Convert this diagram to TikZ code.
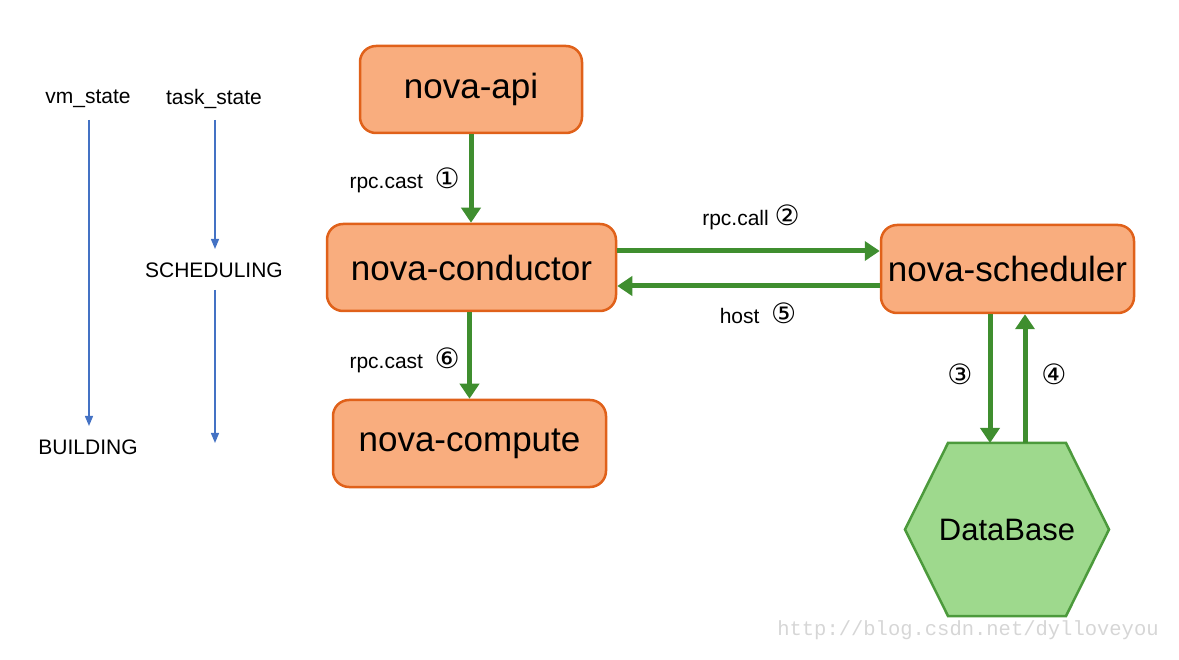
\documentclass[tikz,border=0pt]{standalone}
\usepackage{fontspec}
\setmainfont{Liberation Sans}
\newfontfamily\circfont{DejaVu Sans}
\newfontfamily\wmfont{Liberation Mono}
\usetikzlibrary{arrows.meta}
\definecolor{boxfill}{HTML}{F9AD7E}
\definecolor{boxline}{HTML}{E0611A}
\definecolor{dbfill}{HTML}{9ED98D}
\definecolor{dbline}{HTML}{4C9A3C}
\definecolor{flowgreen}{HTML}{3F8E2F}
\definecolor{stateblue}{HTML}{4472C4}
\definecolor{wmgray}{HTML}{D6D6D6}
\newcommand{\circd}[1]{{\circfont\fontsize{28}{28}\selectfont #1}}
\begin{document}
\begin{tikzpicture}[x=1pt,y=-1pt,
  svc/.style={draw=boxline, fill=boxfill, line width=2.5pt, rounded corners=16pt,
    minimum height=87pt, inner sep=0pt, font=\fontsize{35}{40}\selectfont},
  hexshape/.style={draw=dbline, fill=dbfill, line width=2.5pt, line join=miter},
  lbl/.style={font=\fontsize{21}{24}\selectfont, inner sep=0pt},
  flowarrow/.style={draw=flowgreen, line width=5pt, -{Triangle[width=19pt,length=15pt]}},
  statearrow/.style={draw=stateblue, line width=1.3pt, -{Triangle[width=8pt,length=10pt]}}
]
\useasboundingbox (0,0) rectangle (1179,660);

% services
\node[svc, minimum width=222pt] (api) at (471,89.5) {nova-api};
\node[svc, minimum width=289pt] (cond) at (471.5,267.5) {nova-conductor};
\node[svc, minimum width=273pt] (comp) at (469.5,443.5) {nova-compute};
\node[svc, minimum width=253pt, minimum height=88pt] (sched) at (1007.5,269) {nova-scheduler};

% database hexagon
\coordinate (dbc) at (1007,529.5);
\draw[hexshape] ([shift={(-59,-86.5)}]dbc) -- ([shift={(59,-86.5)}]dbc) -- ([shift={(102,0)}]dbc)
  -- ([shift={(59,86.5)}]dbc) -- ([shift={(-59,86.5)}]dbc) -- ([shift={(-102,0)}]dbc) -- cycle;
\node[minimum width=204pt, minimum height=173pt, inner sep=0pt, outer sep=0pt,
  font=\fontsize{31}{36}\selectfont] (db) at (dbc) {DataBase};

% helper coordinates
\coordinate (ycall) at (0,251);
\coordinate (yhost) at (0,286);
\coordinate (xdown) at (990,0);
\coordinate (xup) at (1025,0);

% green connectors
\draw[flowarrow] (api.south) -- (api.south |- cond.north);
\draw[flowarrow] (cond.east |- ycall) -- (sched.west |- ycall);
\draw[flowarrow] (sched.west |- yhost) -- (cond.east |- yhost);
\draw[flowarrow] (cond.south -| comp.north) -- (comp.north);
\draw[flowarrow] (xdown |- sched.south) -- (xdown |- db.north);
\draw[flowarrow] (xup |- db.north) -- (xup |- sched.south);

% connector labels
\node[lbl, anchor=east] (l1) at (460,180) {rpc.cast\ \ \circd{①}};
\node[lbl] (l2) at (751,217) {rpc.call \circd{②}};
\node[lbl] (l5) at (758,313) {host\ \ \circd{⑤}};
\node[lbl, anchor=east] (l6) at (460,360) {rpc.cast\ \ \circd{⑥}};
\node[lbl] (l3) at (960,374) {\circd{③}};
\node[lbl] (l4) at (1054,374) {\circd{④}};

% state columns
\node[lbl] (vm) at (88,99) {vm\_state};
\node[lbl] (task) at (214,99) {task\_state};
\node[lbl] (build) at (88,447) {BUILDING};
\node[lbl] (schd) at (214,270) {SCHEDULING};
\coordinate (vmtop) at (89,120);
\coordinate (vmend) at (89,426);
\coordinate (tasktop) at (215,120);
\coordinate (taskmid) at (215,249);
\coordinate (taskrest) at (215,290);
\coordinate (taskend) at (215,443);
\draw[statearrow] (vmtop) -- (vmend);
\draw[statearrow] (tasktop) -- (taskmid);
\draw[statearrow] (taskrest) -- (taskend);

% watermark
\node[font=\wmfont\fontsize{20.5}{22}\selectfont, text=wmgray, inner sep=0pt] (wm) at (968,630) {http://blog.csdn.net/dylloveyou};
\end{tikzpicture}
\end{document}
